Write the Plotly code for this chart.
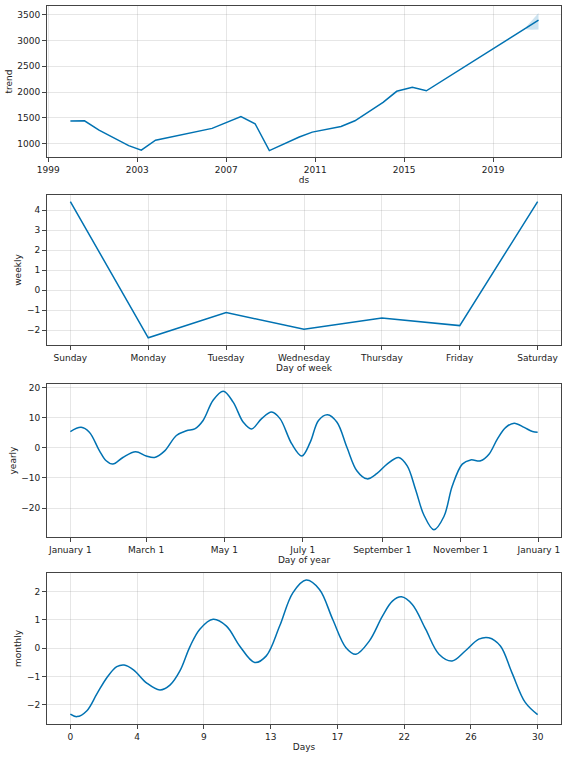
import plotly.graph_objects as go
from plotly.subplots import make_subplots

LINE_COLOR = "#0072B2"
BAND_COLOR = "rgba(0, 114, 178, 0.2)"
GRID_COLOR = "rgba(128, 128, 128, 0.2)"
TEXT_COLOR = "#222222"
SPINE_COLOR = "#444444"

# trend component
trend_dates = [
    "2000-01-01", "2000-08-20", "2001-04-15", "2002-08-15", "2003-03-10",
    "2003-10-30", "2006-05-15", "2007-09-01", "2008-04-20", "2008-12-10",
    "2010-04-15", "2010-11-15", "2012-03-01", "2012-10-15", "2014-01-20",
    "2014-09-01", "2015-05-15", "2016-01-01", "2021-01-15",
]
trend_values = [
    1440, 1445, 1262, 965, 875,
    1070, 1298, 1525, 1388, 868,
    1130, 1225, 1335, 1445, 1800,
    2015, 2095, 2025, 3390,
]
band_dates = ["2020-06-28", "2020-09-15", "2020-11-15", "2021-01-15"]
band_lower = [3215, 3205, 3205, 3208]
band_upper = [3265, 3370, 3450, 3532]
trend_tick_years = [1999, 2003, 2007, 2011, 2015, 2019]

# weekly component
week_days = ["Sunday", "Monday", "Tuesday", "Wednesday", "Thursday", "Friday", "Saturday"]
weekly_values = [4.43, -2.38, -1.12, -1.95, -1.39, -1.77, 4.43]

# yearly component (day of year, value)
yearly_days = [
    0, 8.4, 14.8, 22.7, 27.9, 33.1, 40.9, 50.8, 59.1, 65.6, 73.5, 82.6,
    90.4, 96.9, 103.4, 111.2, 119.1, 126.8, 134.7, 141.2, 149.0, 156.8,
    163.3, 172.5, 180.3, 186.8, 193.3, 200.3, 207.7, 215.5, 223.3, 231.1,
    238.9, 246.7, 255.8, 262.4, 268.9, 275.3, 283.2, 291.0, 297.5, 305.3,
    311.8, 319.6, 326.1, 332.7, 339.2, 345.7, 353.5, 360.0, 364,
]
yearly_values = [
    5.4, 6.8, 5.2, -1.0, -4.3, -5.4, -3.2, -1.3, -2.7, -3.2, -1.0, 4.1,
    5.7, 6.3, 9.1, 15.8, 18.8, 15.2, 8.5, 6.3, 9.7, 11.9,
    9.7, 1.3, -2.7, 1.8, 9.1, 11.0, 8.5, 0.1, -7.7, -10.3,
    -8.5, -5.4, -3.2, -6.0, -13.8, -22.2, -27.2, -22.8, -12.7, -5.4,
    -4.0, -4.3, -2.1, 3.0, 6.8, 8.2, 6.8, 5.4, 5.2,
]
year_tick_days = [0, 59, 120, 181, 243, 304, 365]
year_tick_labels = [
    "January 1", "March 1", "May 1", "July 1",
    "September 1", "November 1", "January 1",
]

# monthly component (days, value)
monthly_days = [
    0, 0.43, 1.08, 1.73, 2.39, 3.03, 3.51, 4.12, 4.99, 5.85, 6.50, 7.15,
    7.80, 8.45, 9.32, 10.19, 11.05, 12.03, 12.79, 13.66, 14.52, 15.39,
    16.26, 17.12, 17.99, 18.64, 19.51, 20.37, 21.02, 21.61, 22.32, 23.19,
    24.06, 24.92, 25.79, 26.66, 27.31, 28.07, 28.82, 29.69, 30.5,
]
monthly_values = [
    -2.32, -2.41, -2.20, -1.61, -1.03, -0.65, -0.59, -0.76, -1.23, -1.47,
    -1.30, -0.80, 0.05, 0.67, 1.02, 0.78, 0.08, -0.50, -0.27, 0.78, 1.95,
    2.40, 2.07, 1.02, 0.02, -0.21, 0.25, 1.13, 1.66, 1.81, 1.54, 0.67,
    -0.21, -0.45, -0.09, 0.32, 0.37, 0.08, -0.86, -1.91, -2.34,
]
month_period = 30.5
month_tick_vals = [i * month_period / 7 for i in range(8)]
month_tick_labels = ["0", "4", "9", "13", "17", "22", "26", "30"]

fig = make_subplots(rows=4, cols=1)

fig.add_trace(
    go.Scatter(
        x=band_dates + band_dates[::-1],
        y=band_upper + band_lower[::-1],
        fill="toself",
        fillcolor=BAND_COLOR,
        line=dict(width=0),
        mode="lines",
    ),
    row=1, col=1,
)
fig.add_trace(
    go.Scatter(x=trend_dates, y=trend_values, mode="lines",
               line=dict(color=LINE_COLOR, width=1.5)),
    row=1, col=1,
)
fig.add_trace(
    go.Scatter(x=list(range(len(week_days))), y=weekly_values, mode="lines",
               line=dict(color=LINE_COLOR, width=1.5)),
    row=2, col=1,
)
fig.add_trace(
    go.Scatter(x=yearly_days, y=yearly_values, mode="lines",
               line=dict(color=LINE_COLOR, width=1.5, shape="spline", smoothing=1)),
    row=3, col=1,
)
fig.add_trace(
    go.Scatter(x=monthly_days, y=monthly_values, mode="lines",
               line=dict(color=LINE_COLOR, width=1.5, shape="spline", smoothing=1)),
    row=4, col=1,
)

axis_style = dict(
    automargin=False,
    showline=True,
    mirror=True,
    linecolor=SPINE_COLOR,
    linewidth=1,
    showgrid=True,
    gridcolor=GRID_COLOR,
    gridwidth=1,
    zeroline=False,
    ticks="outside",
    ticklen=4,
    tickcolor=SPINE_COLOR,
    tickfont=dict(size=9, color=TEXT_COLOR),
    title_font=dict(size=9, color=TEXT_COLOR),
)

x_domain = [47 / 567, 561 / 567]
y_domains = [
    [1 - 157 / 757, 1 - 6 / 757],
    [1 - 345 / 757, 1 - 195 / 757],
    [1 - 537 / 757, 1 - 384 / 757],
    [1 - 724 / 757, 1 - 573 / 757],
]

fig.update_layout(
    width=567,
    height=757,
    margin=dict(l=0, r=0, t=0, b=0),
    paper_bgcolor="white",
    plot_bgcolor="white",
    showlegend=False,
    font=dict(family="DejaVu Sans", size=9, color=TEXT_COLOR),
    xaxis=dict(
        axis_style, domain=x_domain, type="date",
        range=["1998-12-13", "2022-01-19"],
        tickvals=[f"{y}-01-01" for y in trend_tick_years],
        ticktext=[str(y) for y in trend_tick_years],
        title=dict(text="ds", standoff=2),
    ),
    yaxis=dict(
        axis_style, domain=y_domains[0], range=[744, 3665],
        tickvals=[1000, 1500, 2000, 2500, 3000, 3500],
        title=dict(text="trend", standoff=3),
    ),
    xaxis2=dict(
        axis_style, domain=x_domain, range=[-0.3, 6.3],
        tickvals=list(range(len(week_days))), ticktext=week_days,
        title=dict(text="Day of week", standoff=2),
    ),
    yaxis2=dict(
        axis_style, domain=y_domains[1], range=[-2.74, 4.76],
        tickvals=[-2, -1, 0, 1, 2, 3, 4],
        title=dict(text="weekly", standoff=3),
    ),
    xaxis3=dict(
        axis_style, domain=x_domain, range=[-18.2, 382.2],
        tickvals=year_tick_days, ticktext=year_tick_labels,
        title=dict(text="Day of year", standoff=2),
    ),
    yaxis3=dict(
        axis_style, domain=y_domains[2], range=[-29.6, 21.2],
        tickvals=[-20, -10, 0, 10, 20],
        title=dict(text="yearly", standoff=3),
    ),
    xaxis4=dict(
        axis_style, domain=x_domain, range=[-1.525, 32.025],
        tickvals=month_tick_vals, ticktext=month_tick_labels,
        title=dict(text="Days", standoff=2),
    ),
    yaxis4=dict(
        axis_style, domain=y_domains[3], range=[-2.67, 2.65],
        tickvals=[-2, -1, 0, 1, 2],
        title=dict(text="monthly", standoff=3),
    ),
)

# the page's default body margin would shift the figure by 8px
fig.write_html(
    "out.html",
    config={"displayModeBar": False},
    post_script="document.body.style.margin = '0';",
)
